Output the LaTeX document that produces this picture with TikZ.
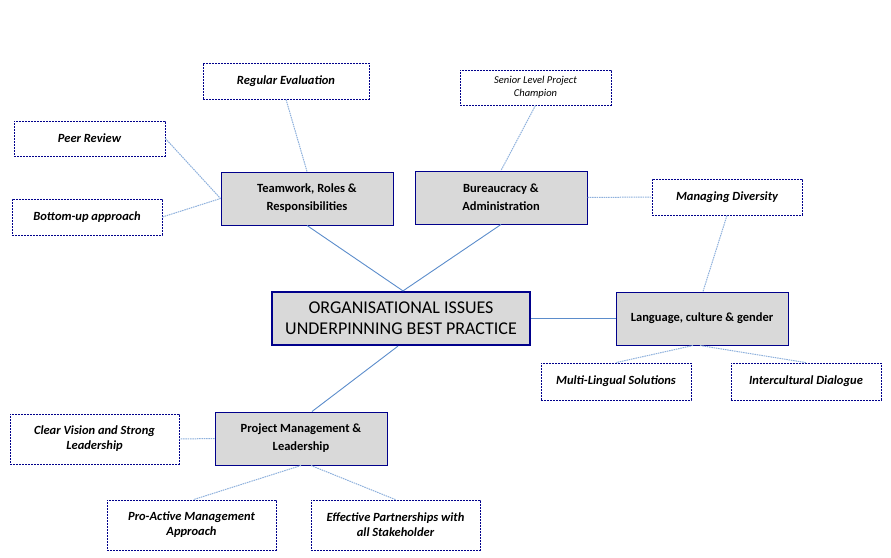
\documentclass[tikz,border=0pt]{standalone}
\usepackage{fontspec}
\setmainfont{Carlito}
\usepackage{tikz}
\usetikzlibrary{positioning}

\definecolor{boxgray}{HTML}{D9D9D9}
\definecolor{boxnavy}{HTML}{00008B}
\definecolor{linkblue}{HTML}{5B8CCB}
\definecolor{dotblue}{HTML}{8DB0DC}

\begin{document}
\begin{tikzpicture}[x=1pt,y=-1pt,
    topic/.style={draw=boxnavy,fill=boxgray,line width=1pt,minimum width=172pt,minimum height=53pt,
      align=center,font=\bfseries\fontsize{12.5}{18}\selectfont},
    core/.style={topic,line width=2.2pt,minimum width=258pt,font=\fontsize{18}{21}\selectfont},
    issue/.style={draw=boxnavy,fill=white,line width=0.8pt,dash pattern=on 2pt off 1pt,
      minimum width=150pt,minimum height=36pt,align=center,font=\bfseries\itshape\fontsize{12.5}{15}\selectfont},
    link/.style={linkblue,line width=0.9pt},
    sublink/.style={dotblue,line width=1pt,dash pattern=on 1.5pt off 0.8pt}]
      \useasboundingbox (0,0) rectangle (891,557);

      % main topics
      \node[core] (org) at (401,318.5) {ORGANISATIONAL ISSUES\\UNDERPINNING BEST PRACTICE};
      \node[topic] (teamwork) at (307,198.5) {Teamwork, Roles \&\\Responsibilities};
      \node[topic] (bureau) at (501,197.5) {Bureaucracy \&\\Administration};
      \node[topic] (language) at (702,318.5) {Language, culture \& gender};
      \node[topic] (project) at (301,438.5) {Project Management \&\\Leadership};

      % issues
      \node[issue,minimum width=166pt] (regeval) at (286,81) {Regular Evaluation};
      \node[issue,minimum width=151pt,minimum height=35pt] (peer) at (89.5,138.5) {Peer Review};
      \node[issue] (bottomup) at (87,217) {Bottom-up approach};
      \node[issue,minimum width=151pt,minimum height=35pt,font=\itshape\fontsize{10.5}{13}\selectfont]
        (champion) at (535.5,87.5) {Senior Level Project\\Champion};
      \node[issue] (diversity) at (727,197) {Managing Diversity};
      \node[issue,minimum height=37pt] (multiling) at (616,381.5) {Multi-Lingual Solutions};
      \node[issue,minimum height=37pt] (intercult) at (806,381.5) {Intercultural Dialogue};
      \node[issue,minimum width=169pt,minimum height=50pt] (vision) at (94.5,439) {Clear Vision and Strong\\Leadership};
      \node[issue,minimum width=169pt,minimum height=50pt] (proactive) at (191.5,525) {Pro-Active Management\\Approach};
      \node[issue,minimum width=169pt,minimum height=50pt] (partners) at (395.5,525) {Effective Partnerships with\\all Stakeholder};

      % links to the core
      \draw[link] (teamwork.south) -- ([xshift=2pt]org.north);
      \draw[link] (bureau.south) -- ([xshift=2pt]org.north);
      \draw[link] (org.east) -- (language.west);
      \draw[link] ([xshift=-3pt]org.south) -- ([xshift=11pt]project.north);

      % links to the issues
      \draw[sublink] (regeval.south) -- (teamwork.north);
      \draw[sublink] (peer.east) -- (teamwork.west);
      \draw[sublink] (bottomup.east) -- (teamwork.west);
      \draw[sublink] (champion.south) -- (bureau.north);
      \draw[sublink] (bureau.east) -- (diversity.west);
      \draw[sublink] (diversity.south) -- ([xshift=1pt]language.north);
      \draw[sublink] ([xshift=-9pt]language.south) -- (multiling.north);
      \draw[sublink] ([xshift=-2pt]language.south) -- (intercult.north);
      \draw[sublink] (project.west) -- (vision.east);
      \draw[sublink] (project.south) -- ([xshift=2pt]proactive.north);
      \draw[sublink] ([xshift=10pt]project.south) -- (partners.north);
\end{tikzpicture}
\end{document}
